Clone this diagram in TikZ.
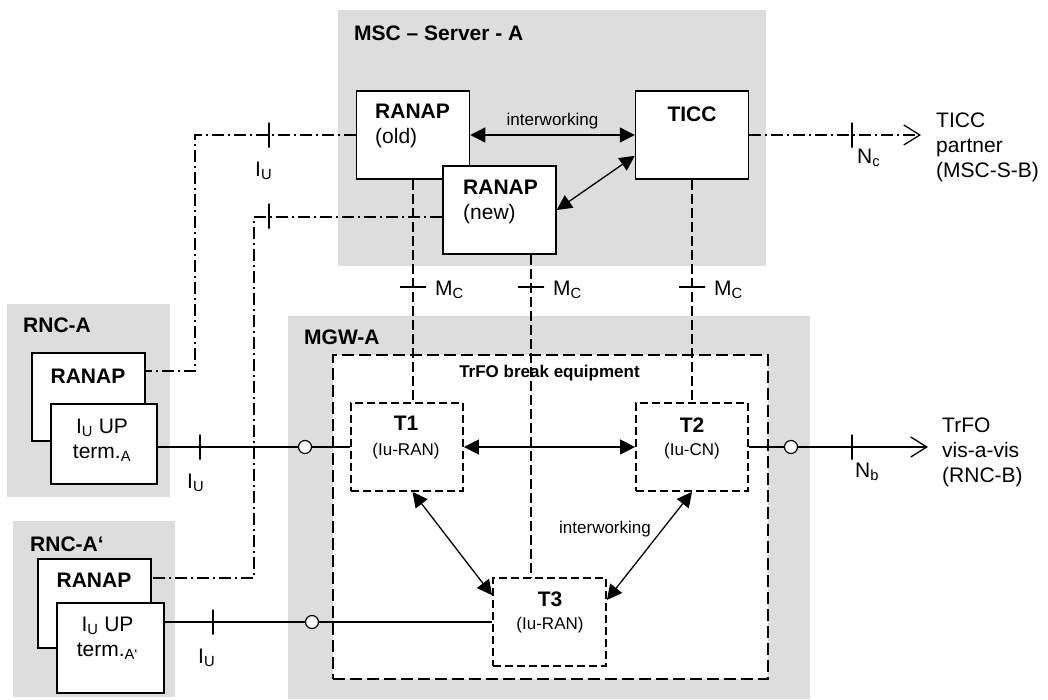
\documentclass[tikz,border=0pt]{standalone}
\usepackage{fontspec}
\setmainfont{Liberation Sans}
\usetikzlibrary{arrows.meta,positioning}
\definecolor{boxgray}{RGB}{221,221,221}
\newcommand{\lrg}{\fontsize{21}{25}\selectfont}
\newcommand{\sml}{\fontsize{17}{20}\selectfont}
\tikzset{
  grp/.style={fill=boxgray, anchor=north west, inner sep=0pt},
  blk/.style={draw, fill=white, line width=1.5pt, minimum width=113pt, minimum height=88pt, inner sep=0pt},
  tblk/.style={draw, fill=white, line width=1.8pt, dash pattern=on 8pt off 4pt, minimum width=112pt, minimum height=88pt, inner sep=0pt},
  port/.style={circle, draw, fill=white, line width=1.2pt, minimum size=13pt, inner sep=0pt},
  sig/.style={line width=1.3pt},
  ctl/.style={line width=1.3pt, dash pattern=on 12pt off 4pt on 2pt off 4pt},
  mc/.style={line width=1.3pt, dash pattern=on 10pt off 4pt},
  biarr/.style={{Triangle[length=15pt,width=15pt]}-{Triangle[length=15pt,width=15pt]}},
  farend/.style={-{Straight Barb[length=16pt,width=20pt]}},
  vbar/.style={draw, solid, line width=1.3pt, inner sep=0pt, minimum width=0pt, minimum height=25pt},
  hbar/.style={draw, solid, line width=1.3pt, inner sep=0pt, minimum width=26pt, minimum height=0pt},
  txt/.style={inner sep=0pt, anchor=base},
}
\begin{document}
\begin{tikzpicture}[x=1pt, y=-1pt]
  \useasboundingbox (0,0) rectangle (1048,699);
  % grey areas
  \node[grp, minimum width=428pt, minimum height=256pt] (msc) at (338,10) {};
  \node[grp, minimum width=163pt, minimum height=193pt] (rnca) at (7,304) {};
  \node[grp, minimum width=162pt, minimum height=176pt] (rncb) at (13,521) {};
  \node[grp, minimum width=522pt, minimum height=383pt] (mgw) at (288,316) {};
  \node[txt, anchor=base west, font=\lrg\bfseries] (msclbl) at (354,40) {MSC – Server - A};
  \node[txt, anchor=base west, font=\lrg\bfseries] (rncalbl) at (23,332) {RNC-A};
  \node[txt, anchor=base west, font=\lrg\bfseries] (rncblbl) at (30,551) {RNC-A‘};
  \node[txt, anchor=base west, font=\lrg\bfseries] (mgwlbl) at (304,344) {MGW-A};

  % TrFO break equipment
  \node[draw, fill=white, anchor=north west, line width=1.8pt, dash pattern=on 12pt off 5pt,
        minimum width=435pt, minimum height=324pt, inner sep=0pt] (brk) at (332,354) {};
  \node[txt, font=\sml\bfseries] (brklbl) at (549.5,377) {TrFO break equipment};

  % control plane
  \node[blk] (ranapold) at (413,135) {};
  \node[blk] (ranapnew) at (499.5,210) {};
  \node[blk] (ticc) at (692,135) {};
  \node[txt, anchor=base west, align=left, font=\lrg] (ranapoldtxt) at (375,143) {\textbf{RANAP}\\(old)};
  \node[txt, anchor=base west, align=left, font=\lrg] (ranapnewtxt) at (463,219) {\textbf{RANAP}\\(new)};
  \node[txt, font=\lrg\bfseries] (ticctxt) at (692,121) {TICC};

  % radio network controllers
  \node[blk] (ranapA) at (88.5,397) {};
  \node[txt, font=\lrg\bfseries] (ranapAtxt) at (88,383) {RANAP};
  \node[blk, minimum width=106pt, minimum height=80pt] (termA) at (104,444) {};
  \node[txt, align=center, font=\lrg] (termAtxt) at (102,458) {I\textsubscript{U} UP\\term.\textsubscript{A}};
  \node[blk, minimum height=89pt] (ranapB) at (94.5,603.5) {};
  \node[txt, font=\lrg\bfseries] (ranapBtxt) at (94,587) {RANAP};
  \node[blk, minimum width=107pt, minimum height=90pt] (termB) at (110.5,648) {};
  \node[txt, align=center, font=\lrg] (termBtxt) at (107.5,656) {I\textsubscript{U} UP\\term.\textsubscript{A‘}};

  % termination points
  \node[tblk] (t1) at (407,447) {};
  \node[tblk] (t2) at (692,447) {};
  \node[tblk, minimum width=113pt] (t3) at (549.5,622) {};
  \node[txt, font=\lrg\bfseries] (t1name) at (406,430) {T1};
  \node[txt, font=\sml] (t1kind) at (406,455) {(Iu-RAN)};
  \node[txt, font=\lrg\bfseries] (t2name) at (692,432) {T2};
  \node[txt, font=\sml] (t2kind) at (692,455) {(Iu-CN)};
  \node[txt, font=\lrg\bfseries] (t3name) at (550,606) {T3};
  \node[txt, font=\sml] (t3kind) at (550,629) {(Iu-RAN)};

  % far ends
  \node[txt, anchor=base west, align=left, font=\lrg] (partner) at (936,177) {TICC\\partner\\(MSC-S-B)};
  \node[txt, anchor=base west, align=left, font=\lrg] (visavis) at (942,482) {TrFO\\vis-a-vis\\(RNC-B)};
  \coordinate (ncend) at (921,135);
  \coordinate (nbend) at (928,447);

  % control connections
  \draw[sig, biarr] (ranapold.east) -- node[midway, above=5.4pt, inner sep=0pt, font=\sml] (iwtop) {interworking} (ticc.west);
  \draw[sig, biarr] (ticc.200) -- (ranapnew.east);
  \draw[ctl, farend] (ticc.east) -- (ncend);
  \coordinate (iuA) at (195,371);
  \draw[ctl] (ranapold.west) -| (iuA) -- (iuA -| ranapA.east);
  \coordinate (iuB) at (254,578);
  \draw[ctl] ([yshift=-7pt]ranapnew.west) -| (iuB) -- (iuB -| ranapB.east);
  \draw[mc] (ranapold.south) -- (ranapold.south |- t1.north);
  \coordinate (mcnew) at ([xshift=31.5pt]ranapnew.south);
  \draw[mc] (mcnew) -- (mcnew |- t3.north);
  \draw[mc] (ticc.south) -- (t2.north);

  % user plane
  \node[port] (pA) at (305,447) {};
  \node[port] (pB) at (312,622) {};
  \node[port] (pC) at (791,447) {};
  \draw[sig] (termA.east |- pA) -- (pA);
  \draw[sig] (pA) -- (t1.west);
  \draw[sig] (termB.east |- pB) -- (pB);
  \draw[sig] (pB) -- (t3.west);
  \draw[sig] (t2.east) -- (pC);
  \draw[sig, farend] (pC) -- (nbend);
  \draw[sig, biarr] (t1.east) -- (t2.west);
  \draw[sig, biarr] (t1.-83) -- (t3.155);
  \draw[sig, biarr] (t2.south) -- (t3.21);
  \node[txt, font=\sml] (iwlow) at (605,533) {interworking};

  % reference points
  \node[vbar] (tkiu1) at (269,135) {};
  \node[vbar] (tkiu2) at (269,216) {};
  \node[vbar] (tkiu3) at (200,447) {};
  \node[vbar] (tkiu4) at (213,622) {};
  \node[vbar] (tknc) at (852,135) {};
  \node[vbar] (tknb) at (852,447) {};
  \node[hbar] (tkmc1) at (413,287) {};
  \node[hbar] (tkmc2) at (531,287) {};
  \node[hbar] (tkmc3) at (692,287) {};
  \node[txt, anchor=base west, font=\lrg] (iulbl1) at (255,176) {I\textsubscript{U}};
  \node[txt, anchor=base west, font=\lrg] (iulbl2) at (187,488) {I\textsubscript{U}};
  \node[txt, anchor=base west, font=\lrg] (iulbl3) at (198,663) {I\textsubscript{U}};
  \node[txt, anchor=base west, font=\lrg] (nclbl) at (857,163) {N\textsubscript{c}};
  \node[txt, anchor=base west, font=\lrg] (nblbl) at (855,477) {N\textsubscript{b}};
  \node[txt, anchor=base west, font=\lrg] (mclbl1) at (435,295) {M\textsubscript{C}};
  \node[txt, anchor=base west, font=\lrg] (mclbl2) at (553,295) {M\textsubscript{C}};
  \node[txt, anchor=base west, font=\lrg] (mclbl3) at (714,295) {M\textsubscript{C}};
\end{tikzpicture}
\end{document}
